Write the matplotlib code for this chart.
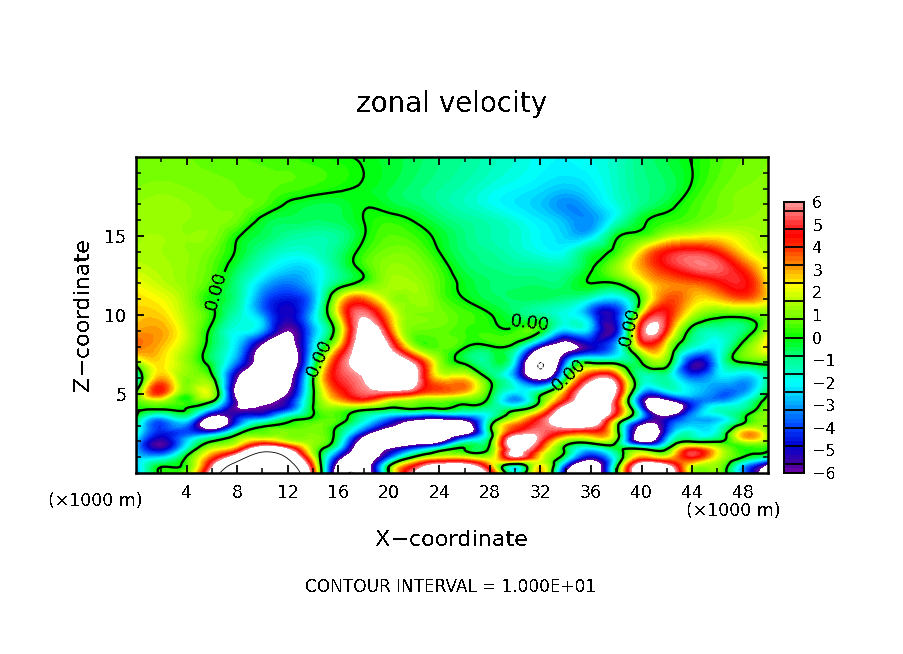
import numpy as np
import matplotlib
matplotlib.use("Agg")
import matplotlib.pyplot as plt
import matplotlib.tri as mtri
from matplotlib.colors import LinearSegmentedColormap, BoundaryNorm

plt.rcParams['font.family'] = 'DejaVu Sans'
plt.rcParams['text.antialiased'] = False

# grid, x every 2 km
x_km = np.arange(0, 51, 2)
z_km = [0, 0.5, 1, 1.5, 2, 2.5, 3, 3.5, 4, 4.5, 5, 6, 7, 8, 9, 10, 11, 12, 13, 14, 15, 16, 17, 18, 20]

# zonal velocity by height, x = 0, 2, ... 50
u_z00 = [-3, .2, 1, 7, 16, 18, 14, 4.5, -8, -8.5, -.1, 6, 8, 8, 5, -1.5, 3, -6, -9, -.2, 8, 8, 1.5, 1, -3, -8]
u_z005 = [-2.7, -.3, .4, 5.3, 12, 16, 12, 3.5, -7, -8, -.5, 4, 6.5, 6.5, 3, -1, 2.2, -4, -8, -.8, 7, 6, 2, 1.2, -2.5, -6.5]
u_z01 = [-2.4, -2.5, .1, 3.5, 7.5, 13, 9.5, 2, -5, -8, -4, .2, 2, 2, 1.5, 5.5, 2.3, -1, -5, -1.5, 3, 2.2, 4.5, 2, 0, -1.5]
u_z015 = [-2.8, -5, -1.5, 1.8, 3.5, 8, 6, 1.2, -2.5, -8, -6, -3.5, -1, 0, .3, 6.5, 3.5, -.3, -2.5, -.5, .2, .05, 4, 2, .2, .1]
u_z02 = [-2.5, -5.5, -2.5, 0, 1.4, 3, 1.8, 1.2, -1, -7.5, -9, -8, -7, -2, -.1, 7.5, 5, 1, .8, .1, -7, -2.5, -.1, -.1, 1.5, 1]
u_z025 = [-1.5, -4.5, -3.8, -3.5, -.3, .7, 1, 1, -.5, -5, -8.5, -8.5, -8.5, -7, -.8, 5, 5.6, 3.8, 3.5, .9, -8, -4, -1.5, -1.5, 2.8, 1.2]
u_z03 = [-1, -4, -3.5, -8, -3.4, -.3, .3, .8, 0, -2.5, -5.5, -7.5, -8, -8, -.4, 3.5, 5.3, 6.5, 6.3, .7, -6.5, -4.5, -2.5, -2, .5, 1]
u_z035 = [-.1, -2.8, -1.5, -7, -4.6, -3.5, -1, .1, .5, -1.3, -3.3, -4.8, -5.3, -4.5, -1.5, 1.5, 4.5, 8, 8, 3, -3.2, -5.5, -3, -2.5, -.3, 1]
u_z04 = [.2, -.1, -.05, -3, -5.8, -5.6, -4, -.05, .8, .1, -.5, -.3, -.3, -.8, -1.2, -.3, 2, 7.2, 8, 4.7, -3.5, -9, -4, -1.5, -1, 1]
u_z045 = [.5, 1.2, .3, -.1, -6, -6.5, -5, -.1, 2.5, 3.3, 1.5, 1, .7, .3, -.5, -3, .3, 4.8, 8, 4.5, -5, -7.5, -4, -3, -1.8, .6]
u_z05 = [.2, 3.7, .5, 1.6, -7, -8, -6, -.2, 3.7, 5.3, 4.7, 3.8, 3, 2.3, -.05, -2.5, -.3, 3.5, 8, 5.5, -3.5, -3.2, -2.5, -3.5, -3, -.1]
u_z06 = [-2, 3, 1, .4, -6, -8.5, -7, -.1, 4.8, 6, 8, 6.7, 2.5, 2.5, -.3, -3, -7, -.5, 5, 4.5, -1.3, -1.2, -3.5, -2.5, -2.8, -1]
u_z07 = [.9, 2.5, 1.2, -.5, -3.5, -7.5, -8, -1.5, 4.7, 7, 7.5, 5.5, 1.3, -.2, -.8, -2.5, -10, -3.5, -.2, -.5, 0, .6, -5, -2.5, 0, .4]
u_z08 = [3.5, 2.8, 1.5, -.5, -2.5, -6.7, -7.5, -2.5, 2.5, 7.5, 6, 1.3, .6, .1, -.1, -.6, -5.5, -7, -5, -2.8, 3, 1.8, -1.5, -2, .4, 2.6]
u_z09 = [3, 3, 1.7, -.3, -1.8, -3, -6, -3, 1, 7, 4, .8, .7, .4, .3, .3, .05, -2.7, -3, -4.8, 5, 4, -.5, -1.3, -.8, 1.5]
u_z10 = [2.7, 2.6, 1.5, .2, -1.4, -3.1, -5, -2.5, 2.2, 5.8, 2.8, 1, .9, .5, .05, -.6, -1, -1.8, -3.5, -4.5, 2.5, 4.6, 1.6, .4, .4, 1]
u_z11 = [2.5, 2.2, 1.3, 0, -1, -3.5, -4.5, -3, 1.8, 3.5, 1.5, 1.3, .7, 0, -.5, -.6, -.6, -.9, -1.8, -2.5, .5, 3.7, 2.8, 2.7, 3.5, 2.4]
u_z12 = [2.2, 1.7, 1.2, .4, -.9, -2.6, -3.4, -2.5, -.7, .4, 1.4, 1.4, .6, -.2, -.6, -.7, -.7, -.6, 0, 0, 1.8, 3.2, 3.5, 4.2, 4.7, 2.3]
u_z13 = [1.7, 1.5, 1.2, .6, -.5, -1.6, -2.4, -2.2, -.9, .3, 1.2, 1.1, .4, -.5, -.8, -1, -1.1, -1.1, -.1, 1.2, 3, 4.4, 5.3, 5.4, 4, 2]
u_z14 = [1.5, 1.4, 1.2, .8, -.1, -1, -1.6, -1.5, -.8, .3, .9, .8, 0, -.7, -1, -1.4, -1.8, -1.8, -.5, .3, 2.5, 4.4, 4.9, 4.2, 2.5, 1.5]
u_z15 = [1.3, 1.4, 1.2, 1.1, .1, -.5, -1, -1.2, -1, -.05, .6, .4, -.2, -.8, -1.2, -1.5, -2, -2.5, -2.4, -.2, .4, 1.5, 2, 2.2, 1.8, 1.3]
u_z16 = [1.3, 1.2, 1.2, 1.1, .8, -.2, -.5, -.6, -.5, 0, .3, -.05, -.6, -1, -1.3, -1.7, -2.2, -2.8, -3.1, -1.6, -.2, .3, .6, 1, 1.2, 1.3]
u_z17 = [1.2, 1.3, 1.2, 1, .9, .6, -.1, -.4, -.4, -.05, -.3, -.6, -1, -1.4, -1.8, -2.2, -2.6, -3.2, -2.7, -1.7, -.9, -.3, .4, .8, 1.1, 1.2]
u_z18 = [1, 1.1, 1, .9, .8, .7, .5, .3, .1, -.1, -.4, -.7, -1, -1.3, -1.7, -2, -2.3, -2.6, -2.2, -1.5, -.9, -.6, .1, .7, 1, 1.1]
u_z20 = [.8, .8, .8, .7, .6, .5, .4, .2, .1, -.1, -.3, -.5, -.8, -1, -1.3, -1.6, -1.9, -2, -1.8, -1.5, -.8, -.4, .05, .5, .8, 1]

u_rows = [u_z00, u_z005, u_z01, u_z015, u_z02, u_z025, u_z03, u_z035, u_z04, u_z045, u_z05,
          u_z06, u_z07, u_z08, u_z09, u_z10, u_z11, u_z12, u_z13, u_z14, u_z15, u_z16, u_z17, u_z18, u_z20]

# colour scale
scale_vals = [-6, -5.6, -4.8, -4, -3.2, -2.4, -2, -1.6, -.8, 0, .8, 1.6, 2.3, 3.2, 4, 4.6, 5.6, 6]
scale_cols = ['#7000a8', '#4000a0', '#0000d0', '#0040ff', '#0090ff', '#00e0ff', '#00ffff', '#00ffd0',
              '#00ff80', '#00ff00', '#70ff00', '#b0ff00', '#ffff00', '#ff9000', '#ff3000', '#ff0000',
              '#ff7070', '#ff9898']
bar_edges = [-6, -5.6, -4.8, -4, -3.2, -2.4, -1.6, -.8, 0, .8, 1.6, 2.4, 3.2, 4, 4.8, 5.6, 6]
bar_ticks = [6, 5, 4, 3, 2, 1, 0, -1, -2, -3, -4, -5, -6]
x_ticks = list(range(4, 49, 4))
z_ticks = [5, 10, 15]
zero_labels = [(6.4, 11.5), (14.5, 7.3), (31.3, 9.1), (34.5, 6.1), (39.3, 9.2)]

W, H = 904, 654
fig = plt.figure(figsize=(W / 100, H / 100), dpi=100, facecolor='white')
ax = fig.add_axes([136 / W, 1 - 473 / H, 632 / W, 316 / H])

cmap = LinearSegmentedColormap.from_list(
    'zonal', [((v + 6) / 12, c) for v, c in zip(scale_vals, scale_cols)], N=256)
cmap.set_over('white')
cmap.set_under('white')
levels = np.arange(-6, 6.01, 0.2)
norm = BoundaryNorm(levels, cmap.N, extend='neither', clip=False)

xx, zz = np.meshgrid(x_km, z_km)
u = np.array(u_rows)
tri = mtri.Triangulation(xx.ravel(), zz.ravel())
tri_f, u_f = mtri.UniformTriRefiner(tri).refine_field(u.ravel(), subdiv=3)

ax.tricontourf(tri_f, u_f, levels=levels, cmap=cmap, norm=norm, extend='both', antialiased=False)
zero = ax.tricontour(tri_f, u_f, levels=[0], colors='k', linewidths=1.7)
ax.tricontour(tri_f, u_f, levels=[10], colors='k', linewidths=0.6)
ax.tricontour(tri_f, u_f, levels=[-10], colors='k', linewidths=0.6, linestyles='dashed')
ax.clabel(zero, manual=zero_labels, fmt='%.2f', fontsize=13, inline=True, inline_spacing=1)

ax.set_xlim(0, 50)
ax.set_ylim(0, 20)
ax.set_xticks(x_ticks)
ax.set_xticks(np.arange(2, 50, 4), minor=True)
ax.set_yticks(z_ticks)
ax.set_yticks(np.arange(1, 20), minor=True)
ax.tick_params(which='major', direction='in', top=True, right=True, length=6, width=1.3,
               labelsize=12.5, pad=8)
ax.tick_params(which='minor', direction='in', top=True, right=True, length=3.5, width=1.1)
for s in ax.spines.values():
    s.set_linewidth(1.8)
ax.tick_params(axis='y', pad=7)

fig.text(452 / W, 1 - 104 / H, 'zonal velocity', ha='center', va='center', fontsize=20)
fig.text(452 / W, 1 - 540 / H, 'X\u2212coordinate', ha='center', va='center', fontsize=16)
fig.text(83 / W, 1 - 315 / H, 'Z\u2212coordinate', ha='center', va='center', rotation=90, fontsize=16)
fig.text(95 / W, 1 - 501 / H, '(\u00d71000 m)', ha='center', va='center', fontsize=12.5)
fig.text(733 / W, 1 - 511 / H, '(\u00d71000 m)', ha='center', va='center', fontsize=12.5)
fig.text(451 / W, 1 - 587 / H, 'CONTOUR INTERVAL = 1.000E+01', ha='center', va='center', fontsize=12.2)

# colour bar, boxes do not line up with the tick values
cax = fig.add_axes([784 / W, 1 - 473 / H, 20 / W, 271 / H])
shades = np.arange(-6, 6.01, 0.2)
cax.pcolormesh([0, 1], shades, ((shades[:-1] + shades[1:]) / 2)[:, None], cmap=cmap, vmin=-6, vmax=6)
cax.hlines(bar_edges, 0, 1, colors='k', linewidth=1.3)
cax.set_xlim(0, 1)
cax.set_ylim(-6, 6)
cax.set_xticks([])
cax.yaxis.tick_right()
cax.set_yticks(bar_ticks)
cax.set_yticklabels([str(t).replace('-', '\u2212') for t in bar_ticks])
cax.tick_params(axis='y', length=0, labelsize=11.5, pad=6)
for s in cax.spines.values():
    s.set_linewidth(1.4)

fig.savefig('out.png', dpi=100)
